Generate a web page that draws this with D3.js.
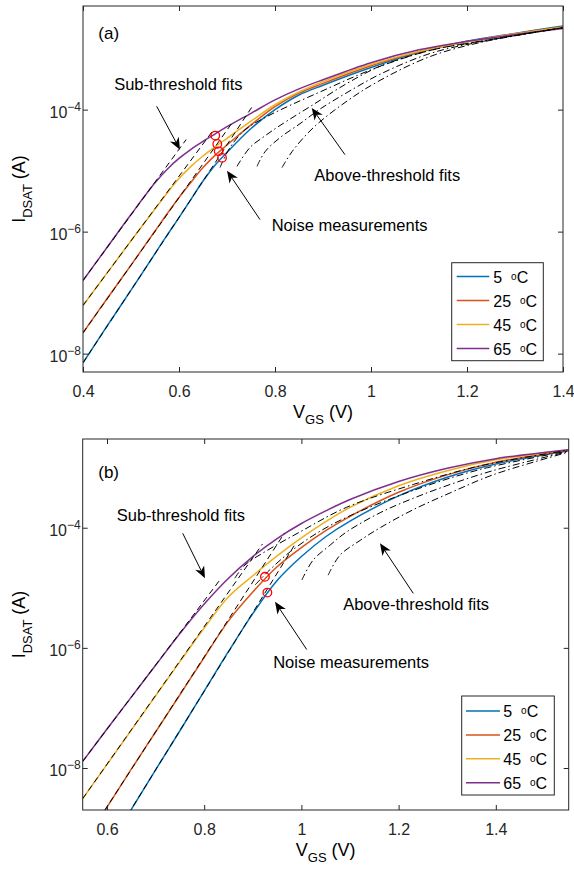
<!DOCTYPE html>
<html><head><meta charset="utf-8">
<script src="https://cdn.jsdelivr.net/npm/d3@7"></script>
<style>
body{margin:0;background:#fff;}
svg{display:block;font-family:"Liberation Sans",Arial,Helvetica,sans-serif;}
</style></head><body>
<svg id="chart" width="574" height="872"></svg>
<script>
// ---------------- DATA (currents stored as log10 of I_DSAT in A) ----------------
const temps = ["5", "25", "45", "65"];
const seriesColors = ["#0072BD", "#D95319", "#EDB120", "#7E2F8E"];

// Panel (a)
const xTicksA = [0.4, 0.6, 0.8, 1.0, 1.2, 1.4];
const xTickLabelsA = ["0.4", "0.6", "0.8", "1", "1.2", "1.4"];
const yTickExpA = [-8, -6, -4];
const vgsA = [0.40, 0.45, 0.50, 0.55, 0.575, 0.60, 0.625, 0.65, 0.675, 0.70, 0.75, 0.80, 0.85, 0.90, 1.00, 1.10, 1.20, 1.30, 1.40];
const logIdA5  = [-8.15, -7.55, -6.96, -6.36, -6.06, -5.77, -5.47, -5.17, -4.91, -4.70, -4.31, -4.00, -3.76, -3.60, -3.31, -3.06, -2.88, -2.75, -2.63];
const logIdA25 = [-7.66, -7.10, -6.55, -5.99, -5.71, -5.44, -5.19, -4.95, -4.75, -4.58, -4.25, -3.95, -3.73, -3.57, -3.28, -3.05, -2.885, -2.755, -2.64];
const logIdA45 = [-7.21, -6.68, -6.15, -5.63, -5.37, -5.13, -4.93, -4.76, -4.61, -4.47, -4.19, -3.92, -3.71, -3.54, -3.26, -3.045, -2.89, -2.76, -2.65];
const logIdA65 = [-6.80, -6.26, -5.72, -5.20, -4.98, -4.80, -4.65, -4.52, -4.40, -4.28, -4.06, -3.84, -3.66, -3.51, -3.23, -3.02, -2.88, -2.77, -2.67];
// sub-threshold fits (a): [VGS, log10 I]
const subFitA5  = [[0.40, -8.15], [0.755, -3.92]];
const subFitA25 = [[0.40, -7.66], [0.713, -4.19]];
const subFitA45 = [[0.40, -7.21], [0.672, -4.33]];
const subFitA65 = [[0.40, -6.80], [0.615, -4.49]];
// above-threshold fits (a)
const aboveFitA5  = [[0.8146, -4.95], [0.8354, -4.69], [0.8792, -4.30], [0.95, -3.86], [1.0188, -3.52], [1.1229, -3.13], [1.2271, -2.90], [1.40, -2.66]];
const aboveFitA25 = [[0.7625, -4.93], [0.7792, -4.69], [0.8104, -4.46], [0.8521, -4.23], [0.8938, -3.99], [0.95, -3.72], [1.0188, -3.42], [1.1229, -3.08], [1.2271, -2.89], [1.40, -2.656]];
const aboveFitA45 = [[0.7208, -4.93], [0.7479, -4.62], [0.7792, -4.43], [0.8104, -4.26], [0.8792, -3.92], [0.95, -3.57], [1.0188, -3.29], [1.1229, -3.03], [1.2271, -2.88], [1.40, -2.656]];
const aboveFitA65 = [[0.6854, -4.95], [0.7063, -4.62], [0.7375, -4.33], [0.7792, -4.13], [0.8313, -3.93], [0.8938, -3.71], [0.9563, -3.49], [1.0188, -3.29], [1.1229, -3.03], [1.2271, -2.88], [1.40, -2.656]];
// noise measurement points (a)
const noiseVgsA = [0.6896, 0.6827, 0.6798, 0.6756];
const noiseLogIdA = [-4.79, -4.684, -4.562, -4.426];

// Panel (b)
const xTicksB = [0.6, 0.8, 1.0, 1.2, 1.4];
const xTickLabelsB = ["0.6", "0.8", "1", "1.2", "1.4"];
const yTickExpB = [-8, -6, -4];
const vgsB = [0.55, 0.60, 0.65, 0.70, 0.75, 0.80, 0.85, 0.90, 0.95, 1.00, 1.05, 1.10, 1.20, 1.30, 1.40, 1.55];
const logIdB5  = [-10.0, -9.34, -8.69, -8.03, -7.38, -6.72, -6.06, -5.43, -4.88, -4.48, -4.15, -3.89, -3.47, -3.16, -2.94, -2.72];
const logIdB25 = [-9.27, -8.65, -8.02, -7.40, -6.78, -6.16, -5.55, -5.07, -4.65, -4.33, -4.05, -3.81, -3.41, -3.12, -2.91, -2.71];
const logIdB45 = [-8.51, -7.94, -7.37, -6.80, -6.23, -5.67, -5.15, -4.80, -4.47, -4.17, -3.90, -3.66, -3.30, -3.05, -2.87, -2.70];
const logIdB65 = [-7.89, -7.35, -6.82, -6.29, -5.76, -5.27, -4.84, -4.48, -4.18, -3.93, -3.72, -3.53, -3.23, -3.01, -2.85, -2.70];
const subFitB5  = [[0.60, -9.34], [0.985, -4.30]];
const subFitB25 = [[0.55, -9.27], [0.965, -4.09]];
const subFitB45 = [[0.55, -8.51], [0.92, -4.27]];
const subFitB65 = [[0.55, -7.89], [0.835, -4.84]];
const aboveFitB5  = [[1.055, -4.79], [1.079, -4.46], [1.121, -4.21], [1.162, -4.00], [1.230, -3.70], [1.306, -3.42], [1.394, -3.12], [1.55, -2.74]];
const aboveFitB25 = [[1.001, -4.87], [1.024, -4.54], [1.059, -4.29], [1.093, -4.07], [1.162, -3.75], [1.230, -3.51], [1.306, -3.28], [1.394, -3.05], [1.55, -2.73]];
const aboveFitB45 = [[0.905, -4.95], [0.935, -4.70], [0.977, -4.40], [1.038, -4.06], [1.100, -3.80], [1.230, -3.38], [1.368, -3.03], [1.55, -2.72]];
const aboveFitB65 = [[0.863, -4.84], [0.884, -4.62], [0.925, -4.40], [0.997, -4.07], [1.093, -3.66], [1.230, -3.28], [1.368, -2.97], [1.55, -2.71]];
const noiseVgsB = [0.930, 0.925];
const noiseLogIdB = [-5.08, -4.817];

// ---------------- DRAWING ----------------
const svg = d3.select("#chart");
const AX = "#262626";

function drawArrow(g, x1, y1, x2, y2) {
  const dx = x2 - x1, dy = y2 - y1, len = Math.hypot(dx, dy);
  const ux = dx / len, uy = dy / len, L = 12, W = 5, N = 3.5;
  const bx = x2 - ux * L, by = y2 - uy * L, px = -uy, py = ux;
  const nx = x2 - ux * (L - N), ny = y2 - uy * (L - N);
  g.append("line").attr("x1", x1).attr("y1", y1).attr("x2", nx).attr("y2", ny)
    .attr("stroke", "#000").attr("stroke-width", 1);
  g.append("path").attr("d", `M${x2},${y2}L${bx + px * W},${by + py * W}L${nx},${ny}L${bx - px * W},${by - py * W}Z`)
    .attr("fill", "#000");
}

function drawPanel(p) {
  const x = d3.scaleLinear().domain(p.xDomain).range([p.left, p.right]);
  const y = d3.scaleLog().domain(p.yDomain).range([p.bottom, p.top]);
  const Y = v => y(Math.pow(10, v));
  const g = svg.append("g");
  svg.append("clipPath").attr("id", "clip" + p.id).append("rect")
    .attr("x", p.left).attr("y", p.top).attr("width", p.right - p.left).attr("height", p.bottom - p.top);
  const plot = g.append("g").attr("clip-path", `url(#clip${p.id})`);

  const smooth = d3.line().x(d => x(d[0])).y(d => Y(d[1])).curve(d3.curveCatmullRom.alpha(0.5));
  const straight = d3.line().x(d => x(d[0])).y(d => Y(d[1]));

  p.curves.forEach((c, i) => {
    plot.append("path").attr("d", smooth(d3.zip(p.vgs, c)))
      .attr("fill", "none").attr("stroke", seriesColors[i]).attr("stroke-width", 1.5);
  });
  p.subFits.forEach(f => {
    plot.append("path").attr("d", straight(f)).attr("fill", "none")
      .attr("stroke", "#000").attr("stroke-width", 1).attr("stroke-dasharray", "6,4");
  });
  p.aboveFits.forEach(f => {
    plot.append("path").attr("d", smooth(f)).attr("fill", "none")
      .attr("stroke", "#000").attr("stroke-width", 1).attr("stroke-dasharray", "7,3,1.5,3");
  });
  plot.selectAll("circle.noise").data(d3.zip(p.noiseV, p.noiseLog)).join("circle")
    .attr("cx", d => x(d[0])).attr("cy", d => Y(d[1])).attr("r", 4.3)
    .attr("fill", "none").attr("stroke", "#FF0000").attr("stroke-width", 1.3);

  // annotations
  const ann = g.append("g");
  p.texts.forEach(t => {
    ann.append("text").attr("x", x(t.v)).attr("y", Y(t.l)).attr("font-size", t.size || 16.5)
      .attr("fill", "#000").text(t.text);
  });
  p.arrows.forEach(a => drawArrow(ann, x(a[0]), Y(a[1]), x(a[2]), Y(a[3])));

  // axes
  const fmt = (d, i) => p.xTickLabels[i];
  const bottom = g.append("g").attr("transform", `translate(0,${p.bottom})`)
    .call(d3.axisBottom(x).tickValues(p.xTicks).tickFormat(fmt).tickSizeInner(-5).tickSizeOuter(0).tickPadding(13));
  const top = g.append("g").attr("transform", `translate(0,${p.top})`)
    .call(d3.axisTop(x).tickValues(p.xTicks).tickFormat("").tickSizeInner(-5).tickSizeOuter(0));
  const yTickVals = p.yTickExp.map(e => Math.pow(10, e));
  const left = g.append("g").attr("transform", `translate(${p.left},0)`)
    .call(d3.axisLeft(y).tickValues(yTickVals).tickFormat("").tickSizeInner(-5).tickSizeOuter(0));
  const right = g.append("g").attr("transform", `translate(${p.right},0)`)
    .call(d3.axisRight(y).tickValues(yTickVals).tickFormat("").tickSizeInner(-5).tickSizeOuter(0));
  [bottom, top, left, right].forEach(a => {
    a.attr("color", AX).attr("font-family", null).attr("font-size", null);
    a.select(".domain").remove();
    a.selectAll("line").attr("stroke-width", 1);
  });
  bottom.selectAll("text").attr("font-size", 16).attr("fill", "#262626").attr("dy", null).attr("y", 25);
  // y tick labels 10^n
  p.yTickExp.forEach(e => {
    const t = g.append("text").attr("x", p.left - 2).attr("y", y(Math.pow(10, e)) + 8)
      .attr("text-anchor", "end").attr("font-size", 16).attr("fill", "#262626");
    t.append("tspan").text("10");
    t.append("tspan").attr("font-size", 12).attr("dy", -7).text("\u2212" + Math.abs(e));
  });
  g.append("rect").attr("x", p.left).attr("y", p.top).attr("width", p.right - p.left)
    .attr("height", p.bottom - p.top).attr("fill", "none").attr("stroke", AX).attr("stroke-width", 1);

  // axis labels
  const cx = (p.left + p.right) / 2, cy = (p.top + p.bottom) / 2;
  const xl = g.append("text").attr("x", cx).attr("y", p.bottom + 46).attr("text-anchor", "middle")
    .attr("font-size", 18).attr("fill", "#000");
  xl.append("tspan").text("V");
  xl.append("tspan").attr("font-size", 13).attr("dy", 6).text("GS");
  xl.append("tspan").attr("dy", -6).text(" (V)");
  const yl = g.append("text").attr("transform", `translate(25,${cy}) rotate(-90)`).attr("text-anchor", "middle")
    .attr("font-size", 18).attr("fill", "#000");
  yl.append("tspan").text("I");
  yl.append("tspan").attr("font-size", 13).attr("dy", 7).text("DSAT");
  yl.append("tspan").attr("dy", -7).text(" (A)");

  // legend
  const L = p.legend;
  const lg = g.append("g");
  lg.append("rect").attr("x", L.x).attr("y", L.y).attr("width", L.w).attr("height", L.h)
    .attr("fill", "#fff").attr("stroke", AX).attr("stroke-width", 1);
  temps.forEach((t, i) => {
    const ry = L.y0 + i * L.dy;
    lg.append("line").attr("x1", L.lx1).attr("x2", L.lx2).attr("y1", ry).attr("y2", ry)
      .attr("stroke", seriesColors[i]).attr("stroke-width", 1.5);
    const tx = lg.append("text").attr("x", L.tx).attr("y", ry + 6).attr("font-size", 16).attr("fill", "#000")
      .attr("xml:space", "preserve");
    tx.append("tspan").text(t + "  ");
    tx.append("tspan").attr("font-size", 10).attr("dy", -3).text("o");
    tx.append("tspan").attr("dy", 3).text("C");
  });
}

drawPanel({
  id: "a", xDomain: [0.4, 1.4], yDomain: [5e-9, 5e-3],
  left: 83, right: 563, top: 6, bottom: 372,
  xTicks: xTicksA, xTickLabels: xTickLabelsA, yTickExp: yTickExpA,
  vgs: vgsA, curves: [logIdA5, logIdA25, logIdA45, logIdA65],
  subFits: [subFitA5, subFitA25, subFitA45, subFitA65],
  aboveFits: [aboveFitA5, aboveFitA25, aboveFitA45, aboveFitA65],
  noiseV: noiseVgsA, noiseLog: noiseLogIdA,
  texts: [
    {text: "(a)", v: 0.4319, l: -2.85, size: 17},
    {text: "Sub-threshold fits", v: 0.465, l: -3.672},
    {text: "Above-threshold fits", v: 0.882, l: -5.164},
    {text: "Noise measurements", v: 0.793, l: -5.984}
  ],
  arrows: [
    [0.5535, -3.946, 0.6021, -4.656],
    [0.9458, -4.738, 0.8765, -3.972],
    [0.7688, -5.803, 0.700, -5.0]
  ],
  legend: {x: 451.7, y: 262.7, w: 91.6, h: 98, y0: 276.6, dy: 24, lx1: 456.7, lx2: 489.3, tx: 493.3}
});

drawPanel({
  id: "b", xDomain: [0.55, 1.55], yDomain: [2e-9, 3e-3],
  left: 82.7, right: 568.7, top: 439, bottom: 810,
  xTicks: xTicksB, xTickLabels: xTickLabelsB, yTickExp: yTickExpB,
  vgs: vgsB, curves: [logIdB5, logIdB25, logIdB45, logIdB65],
  subFits: [subFitB5, subFitB25, subFitB45, subFitB65],
  aboveFits: [aboveFitB5, aboveFitB25, aboveFitB45, aboveFitB65],
  noiseV: noiseVgsB, noiseLog: noiseLogIdB,
  texts: [
    {text: "(b)", v: 0.582, l: -3.17, size: 17},
    {text: "Sub-threshold fits", v: 0.620, l: -3.883},
    {text: "Above-threshold fits", v: 1.086, l: -5.372},
    {text: "Noise measurements", v: 0.942, l: -6.338}
  ],
  arrows: [
    [0.7558, -4.093, 0.8016, -4.843],
    [1.2302, -5.093, 1.1617, -4.26],
    [1.0109, -6.027, 0.9457, -5.233]
  ],
  legend: {x: 461.7, y: 696, w: 92.6, h: 99, y0: 711, dy: 23.9, lx1: 466, lx2: 500, tx: 503.3}
});
</script>
</body></html>
